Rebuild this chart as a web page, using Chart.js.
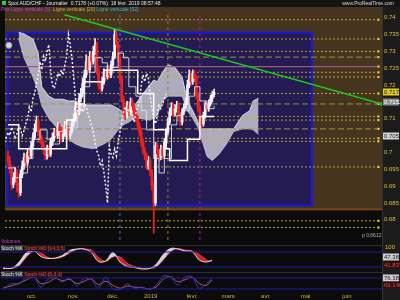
<!DOCTYPE html>
<html><head><meta charset="utf-8">
<script src="https://cdn.jsdelivr.net/npm/chart.js@4.4.1/dist/chart.umd.min.js"></script>
<style>
html,body{margin:0;padding:0;background:#0b0b0b;}
#wrap{position:relative;width:400px;height:300px;overflow:hidden;background:#0b0b0b;font-family:"Liberation Sans",Arial,sans-serif;}
canvas{position:absolute;left:0;}
.t{position:absolute;white-space:nowrap;font-size:5px;line-height:7px;}
</style></head><body>
<div id="wrap">
<canvas id="main" width="400" height="238" style="top:7px"></canvas>
<canvas id="st1" width="400" height="27" style="top:245px"></canvas>
<canvas id="st2" width="400" height="28" style="top:272px"></canvas>
<div class="t" style="top:0;left:0;width:400px;height:7px;background:#141414;"></div>
<div class="t" style="top:1px;left:2px;width:4px;height:4px;background:#2ecc40;"></div>
<div class="t" style="top:0;left:8px;color:#e6e6e6;">Spot AUD/CHF - Journalier &nbsp;0.7178 (+0.07%) &nbsp;18 févr. 2019 08:57:48</div>
<div class="t" style="top:0;right:6px;color:#dcdcdc;">www.ProRealTime.com</div>
<div class="t" style="top:6px;left:1px;"><span style="color:#e040e0">Prix</span> <span style="color:#d23cd2">Ligne verticale [3]</span> <span style="color:#c9b23e">&nbsp;Ligne verticale [20]</span> <span style="color:#3ea8d4">Ligne verticale [52]</span></div>
<div class="t" style="top:238px;left:1px;color:#d03cd0;">Volumes</div>
<div class="t" style="top:232px;left:362px;color:#b0b0b0;">p 0.6612</div>
<div class="t" style="top:245px;left:1px;"><span style="color:#e0e0e0;background:#333">Stoch %K</span> <span style="color:#e04848;background:#2a1414">Stoch %D [14,3,5]</span></div>
<div class="t" style="top:271px;left:1px;"><span style="color:#e0e0e0;background:#333">Stoch %K</span> <span style="color:#e04848;background:#2a1414">Stoch %D [5,3,3]</span></div>
</div>
<script>
// ---------- DATA ----------
const candleOpen = [
0.6990,0.6975,0.6950,0.6905,0.6925,0.6940,0.6900,0.6880,0.6935,0.6960,
0.6985,0.6970,0.7000,0.6990,0.7020,0.7045,0.7070,0.7095,0.7060,0.7040,
0.7025,0.7005,0.6990,0.7010,0.6995,0.7030,0.7045,0.7060,0.7050,0.7075,
0.7065,0.7040,0.7055,0.7080,0.7070,0.7050,0.7065,0.7085,0.7100,0.7135,
0.7120,0.7160,0.7175,0.7205,0.7230,0.7270,0.7245,0.7285,0.7270,0.7300,
0.7320,0.7240,0.7200,0.7190,0.7210,0.7235,0.7225,0.7245,0.7230,0.7260,
0.7285,0.7350,0.7320,0.7280,0.7220,0.7160,0.7120,0.7110,0.7140,0.7120,
0.7150,0.7135,0.7115,0.7100,0.7080,0.7060,0.7030,0.7005,0.6990,0.6960,
0.6975,0.6940,0.6900,0.6850,0.7020,0.6995,0.6985,0.7010,0.6990,0.7030,
0.7060,0.7090,0.7120,0.7135,0.7115,0.7130,0.7140,0.7110,0.7090,0.7120,
0.7135,0.7150,0.7200,0.7230,0.7210,0.7235,0.7220,0.7170,0.7130,0.7100,
0.7085,0.7110,0.7140,0.7130,0.7145,0.7160,0.7172];
const candleHigh = [
0.7005,0.6988,0.6962,0.6940,0.6955,0.6950,0.6912,0.6948,0.6975,0.6998,
0.6995,0.7012,0.7015,0.7032,0.7058,0.7085,0.7108,0.7102,0.7072,0.7050,
0.7035,0.7015,0.7022,0.7020,0.7042,0.7058,0.7072,0.7070,0.7088,0.7085,
0.7075,0.7066,0.7092,0.7090,0.7078,0.7075,0.7098,0.7115,0.7150,0.7148,
0.7175,0.7190,0.7220,0.7245,0.7290,0.7282,0.7300,0.7298,0.7315,0.7338,
0.7328,0.7250,0.7212,0.7222,0.7248,0.7245,0.7258,0.7255,0.7272,0.7298,
0.7366,0.7362,0.7330,0.7288,0.7228,0.7168,0.7135,0.7152,0.7150,0.7162,
0.7160,0.7145,0.7125,0.7110,0.7090,0.7070,0.7040,0.7015,0.6998,0.6988,
0.6985,0.6950,0.6912,0.7030,0.7028,0.7008,0.7022,0.7018,0.7042,0.7072,
0.7102,0.7132,0.7148,0.7145,0.7142,0.7152,0.7148,0.7118,0.7130,0.7145,
0.7162,0.7215,0.7245,0.7240,0.7245,0.7244,0.7228,0.7178,0.7138,0.7108,
0.7120,0.7150,0.7150,0.7156,0.7170,0.7182,0.7188];
const candleLow = [
0.6962,0.6938,0.6890,0.6895,0.6912,0.6885,0.6866,0.6872,0.6925,0.6950,
0.6958,0.6962,0.6978,0.6982,0.7010,0.7038,0.7062,0.7050,0.7028,0.7012,
0.6995,0.6978,0.6980,0.6985,0.6988,0.7020,0.7035,0.7040,0.7042,0.7055,
0.7030,0.7032,0.7048,0.7060,0.7040,0.7042,0.7058,0.7078,0.7092,0.7110,
0.7112,0.7150,0.7165,0.7195,0.7222,0.7235,0.7238,0.7258,0.7262,0.7290,
0.7232,0.7188,0.7178,0.7182,0.7202,0.7215,0.7218,0.7220,0.7222,0.7252,
0.7278,0.7310,0.7270,0.7210,0.7150,0.7105,0.7098,0.7102,0.7110,0.7112,
0.7125,0.7105,0.7090,0.7068,0.7048,0.7018,0.6995,0.6978,0.6950,0.6950,
0.6930,0.6888,0.6760,0.6842,0.6985,0.6975,0.6978,0.6980,0.6982,0.7022,
0.7052,0.7082,0.7110,0.7105,0.7108,0.7120,0.7100,0.7080,0.7082,0.7112,
0.7128,0.7142,0.7192,0.7200,0.7202,0.7210,0.7160,0.7120,0.7090,0.7072,
0.7078,0.7102,0.7122,0.7122,0.7138,0.7150,0.7165];
const candleClose = [
0.6975,0.6950,0.6905,0.6925,0.6940,0.6900,0.6880,0.6935,0.6960,0.6985,
0.6970,0.7000,0.6990,0.7020,0.7045,0.7070,0.7095,0.7060,0.7040,0.7025,
0.7005,0.6990,0.7010,0.6995,0.7030,0.7045,0.7060,0.7050,0.7075,0.7065,
0.7040,0.7055,0.7080,0.7070,0.7050,0.7065,0.7085,0.7100,0.7135,0.7120,
0.7160,0.7175,0.7205,0.7230,0.7270,0.7245,0.7285,0.7270,0.7300,0.7320,
0.7240,0.7200,0.7190,0.7210,0.7235,0.7225,0.7245,0.7230,0.7260,0.7285,
0.7350,0.7320,0.7280,0.7220,0.7160,0.7120,0.7110,0.7140,0.7120,0.7150,
0.7135,0.7115,0.7100,0.7080,0.7060,0.7030,0.7005,0.6990,0.6960,0.6975,
0.6940,0.6900,0.6850,0.7020,0.6995,0.6985,0.7010,0.6990,0.7030,0.7060,
0.7090,0.7120,0.7135,0.7115,0.7130,0.7140,0.7110,0.7090,0.7120,0.7135,
0.7150,0.7200,0.7230,0.7210,0.7235,0.7220,0.7170,0.7130,0.7100,0.7085,
0.7110,0.7140,0.7130,0.7145,0.7160,0.7172,0.7178];
const chikouShift = 26;

const cloudX = [6,9,14,17,19,23,26,31,34,38,42,48,54,58,62,65,68,71,75,79,82,84,87,90,94,98,101,104,107,109,112,115,119,123,127,132,136,138,141];
const cloudUpper = [0.7357,0.7352,0.7337,0.7295,0.7195,0.7167,0.7158,0.7158,0.7153,0.7153,0.7141,0.7141,0.7141,0.7141,0.7130,0.7119,0.7110,0.7138,0.7167,0.7195,0.7215,0.7210,0.7238,0.7261,0.7252,0.7224,0.7153,0.7124,0.7090,0.7070,0.7070,0.7070,0.7070,0.7070,0.7070,0.7110,0.7124,0.7153,0.7161];
const cloudLower = [0.7337,0.7281,0.7224,0.7181,0.7138,0.7101,0.7082,0.7053,0.7039,0.7025,0.7016,0.7011,0.7025,0.7039,0.7067,0.7082,0.7090,0.7101,0.7101,0.7096,0.7101,0.7110,0.7153,0.7167,0.7167,0.7167,0.7124,0.7101,0.7073,0.7039,0.6988,0.6976,0.6996,0.7025,0.7062,0.7070,0.7070,0.7067,0.7053];

const kijunX = [0,6,33,38,43,54,73,82,89,91,101,108,116];
const kijunY = [0.7082,0.7011,0.7096,0.7144,0.7210,0.7244,0.7175,0.7067,0.7011,0.6976,0.7039,0.7107,0.7107];
const tenkanX = [0,4,8,11,14,18,22,25,29,33,36,39,43,46,49,53,56,59,62,65,68,72,75,78,82,85,88,92,95,98,102,105,108,112,116];
const tenkanY = [0.6954,0.6925,0.6939,0.6982,0.7039,0.7067,0.7039,0.7025,0.7062,0.7073,0.7073,0.7124,0.7195,0.7238,0.7281,0.7266,0.7238,0.7252,0.7295,0.7281,0.7195,0.7167,0.7124,0.7067,0.6982,0.6939,0.6982,0.7082,0.7110,0.7124,0.7167,0.7195,0.7153,0.7130,0.7138];

const dottedLevels = [0.7394,0.7337,0.7300,0.7238,0.7224,0.7175,0.7107,0.7096,0.7042,0.7033,0.6957,0.6797,0.6777];
const dashedLevels = [0.7283,0.7144,0.7070];
const mauveLevels = [0.7255];
const verticalDays = [63,90,108];
const trendX = [31.7,210.5];
const trendY = [0.7409,0.7144];
const markerX = [0.5];
const markerY = [0.7318];

const priceTicks = [0.74,0.735,0.73,0.725,0.72,0.71,0.70,0.695,0.69,0.685,0.68];
const priceTickLabels = ['0.74','0.735','0.73','0.725','0.72','0.71','0.7','0.695','0.69','0.685','0.68'];

const stochX  = [0,5,9,13,17,21,25,29,33,37,41,45,49,53,57,61,65,69,73,77,81,85,89,93,97,101,105,109,113,116];
const stoch1K = [14,16,40,78,86,62,54,56,66,86,92,92,78,42,44,78,40,22,18,12,14,30,70,94,92,84,82,48,40,47.387];
const stoch1D = [18,14,26,60,82,76,58,54,60,76,90,92,88,58,42,60,60,34,22,16,14,20,48,80,94,88,84,70,48,41.837];
const stoch2K = [22,50,48,84,88,30,74,84,58,80,36,78,72,24,84,22,18,48,24,30,16,40,90,86,42,84,88,22,50,76.387];
const stoch2D = [26,38,52,70,86,50,56,78,66,72,50,62,76,44,62,40,24,36,30,28,20,30,74,88,60,70,84,50,40,69.146];
const stochLevels = [80,20];

const monthTicks  = [16,39,61,82,105,125,146,168,191];
const monthLabels = ['oct.','nov.','déc.','2019','févr.','mars','avr.','mai','juin'];

// ---------- LAYOUT CONSTANTS (data units) ----------
const X_MIN = -1.7, X_MAX = 210.5;
const Y_MIN = 0.6740, Y_MAX = 0.7417;
const LINE_END = 208.5;
const zone = {brownFloor:0.6831, boxX0:-0.3, boxX1:171, boxYlo:0.6843, boxYhi:0.7356};

Chart.defaults.font.family = '"Liberation Sans", Arial, sans-serif';

function fixAxisY(a){ a.width = 18; a.paddingTop = 0; a.paddingBottom = 0; }

const bgPlugin = {
  id:'bgPlugin',
  beforeDraw(ch, args, o){
    const {ctx, chartArea:a} = ch;
    ctx.save();
    ctx.fillStyle = '#0b0b0b'; ctx.fillRect(0,0,ch.width,ch.height);
    if (o.main){
      const x = ch.scales.x, y = ch.scales.y;
      const yb = y.getPixelForValue(zone.brownFloor);
      ctx.fillStyle = '#46341f'; ctx.fillRect(a.left, 0, a.right-a.left, yb);
      ctx.fillStyle = '#7a4714'; ctx.fillRect(a.left, yb-1, a.right-a.left, 2);
      const bx0 = x.getPixelForValue(zone.boxX0), bx1 = x.getPixelForValue(zone.boxX1);
      const by0 = y.getPixelForValue(zone.boxYhi), by1 = y.getPixelForValue(zone.boxYlo);
      ctx.fillStyle = '#231b52'; ctx.fillRect(bx0,by0,bx1-bx0,by1-by0);
      ctx.strokeStyle = '#1616e8'; ctx.lineWidth = 2; ctx.strokeRect(bx0,by0,bx1-bx0,by1-by0);
    } else {
      ctx.fillStyle = '#2e2e2e'; ctx.fillRect(0,0,ch.width,1);
    }
    ctx.fillStyle = '#1b1b1b'; ctx.fillRect(a.right,0,ch.width-a.right,ch.height);
    ctx.fillStyle = '#333'; ctx.fillRect(a.right,0,1,ch.height);
    ctx.restore();
  }
};
const boxPlugin = {
  id:'boxPlugin',
  afterDraw(ch, args, o){
    const {ctx, chartArea:a} = ch; const y = ch.scales.y;
    ctx.save();
    (o.items||[]).forEach(b=>{
      const py = Math.round(y.getPixelForValue(b.value)) + (b.dy||0);
      ctx.fillStyle = b.bg; ctx.fillRect(a.right+1, py-3.5, ch.width-a.right-2, 7);
      ctx.fillStyle = b.fg; ctx.font = '6px "Liberation Sans"'; ctx.textBaseline = 'middle';
      ctx.fillText(b.text, a.right+2, py+0.5);
    });
    ctx.restore();
  }
};

// ---------- MAIN CHART ----------
const idx = candleClose.map((_, i) => i);
const colUp = '#f2f2f6', colDn = '#ee2020';
const candleCol = idx.map(i => candleClose[i] < candleOpen[i] ? colDn : colUp);

function hLine(level, color, dash, width){
  return {type:'line', data:[{x:X_MIN,y:level},{x:LINE_END,y:level}], borderColor:color, borderDash:dash,
    borderWidth:width, pointRadius:[0,1.5], pointStyle:'rect', pointBackgroundColor:'#e6cf2a', pointBorderWidth:0, order:8};
}
const vColors = ['#52789c','#8c7c4c','#a41cac'];
const datasets = [
  {type:'line', data:cloudX.map((x,i)=>({x, y:cloudUpper[i]})), borderColor:'rgba(235,235,242,0.85)', borderWidth:1, pointRadius:0, fill:false, order:9},
  {type:'line', data:cloudX.map((x,i)=>({x, y:cloudLower[i]})), borderColor:'rgba(225,225,232,0.6)', borderWidth:1, pointRadius:0, fill:'-1', backgroundColor:'rgba(192,192,206,0.88)', order:9},
  ...dottedLevels.map(v => hLine(v, 'rgba(205,182,58,0.85)', [2,2], 1)),
  ...dashedLevels.map(v => hLine(v, 'rgba(170,150,60,0.95)', [6,3], 1)),
  ...mauveLevels.map(v => hLine(v, '#9a5a80', [], 1.3)),
  ...verticalDays.map((d,i) => ({type:'line', data:[{x:d,y:Y_MIN},{x:d,y:Y_MAX}], borderColor:vColors[i], borderDash:[3,3], borderWidth:1, pointRadius:0, order:7})),
  {type:'bar', data:idx.map(i=>({x:i, y:[candleLow[i], candleHigh[i]]})), backgroundColor:candleCol, barThickness:1, grouped:false, order:5},
  {type:'bar', data:idx.map(i=>({x:i, y:[candleOpen[i], candleClose[i]]})), backgroundColor:candleCol, barThickness:2, minBarLength:1, grouped:false, order:4},
  {type:'line', data:tenkanX.map((x,i)=>({x, y:tenkanY[i]})), stepped:'before', borderColor:'rgba(230,230,240,0.85)', borderWidth:1, pointRadius:0, order:3},
  {type:'line', data:kijunX.map((x,i)=>({x, y:kijunY[i]})), stepped:'before', borderColor:'#ffffff', borderWidth:1.5, pointRadius:0, order:3},
  {type:'line', data:candleClose.map((c,i)=>({x:i-chikouShift, y:c})), borderColor:'#f4f4f4', borderDash:[2,2], borderWidth:1.5, pointRadius:0, order:2},
  {type:'line', data:trendX.map((x,i)=>({x, y:trendY[i]})), borderColor:'#1ec81e', borderWidth:1.5, pointRadius:[0,2], pointBackgroundColor:'#1ec81e', pointBorderWidth:0, order:1},
  {type:'line', data:markerX.map((x,i)=>({x, y:markerY[i]})), showLine:false, pointRadius:3, pointBackgroundColor:'#d6d6d6', pointBorderColor:'#999', pointBorderWidth:1, order:1}
];

new Chart(document.getElementById('main'), {
  type:'bar',
  data:{datasets},
  plugins:[bgPlugin, boxPlugin],
  options:{
    responsive:false, animation:false, devicePixelRatio:1,
    layout:{padding:0},
    plugins:{legend:{display:false}, tooltip:{enabled:false},
      bgPlugin:{main:true},
      boxPlugin:{items:[
        {value:candleClose[candleClose.length-1], text:candleClose[candleClose.length-1].toFixed(4), bg:'#e2cb22', fg:'#111'},
        {value:0.7152, text:'0.7152', bg:'#8c8c8c', fg:'#fff', dy:1},
        {value:0.7050, text:'0.7050', bg:'#d4d4d4', fg:'#222'}
      ]}},
    scales:{
      x:{type:'linear', min:X_MIN, max:X_MAX, display:false, offset:false, grid:{offset:false}},
      y:{type:'linear', position:'right', min:Y_MIN, max:Y_MAX, beginAtZero:false,
         grid:{display:false, drawTicks:false}, border:{display:false},
         afterFit:fixAxisY,
         afterBuildTicks(a){ a.ticks = priceTicks.map(v=>({value:v})); },
         ticks:{color:'#d8c234', font:{size:6}, padding:2, autoSkip:false, callback:(v,i)=>priceTickLabels[i]}}
    }
  }
});

// ---------- STOCHASTICS ----------
function levelSets(){
  return stochLevels.map(v => ({data:[{x:X_MIN,y:v},{x:X_MAX,y:v}], borderColor:'#1c1ca8', borderWidth:1, pointRadius:0, fill:false}));
}
new Chart(document.getElementById('st1'), {
  type:'line',
  data:{datasets:[
    ...levelSets(),
    {data:stochX.map((x,i)=>({x, y:stoch1K[i]})), borderColor:'#dcdcf0', borderWidth:1, pointRadius:0, tension:0.35,
      fill:{target:'+1', above:'rgba(222,222,240,0.92)', below:'rgba(232,36,36,0.92)'}},
    {data:stochX.map((x,i)=>({x, y:stoch1D[i]})), borderColor:'#e03030', borderWidth:1, pointRadius:0, tension:0.35, fill:false}
  ]},
  plugins:[bgPlugin, boxPlugin],
  options:{
    responsive:false, animation:false, devicePixelRatio:1, layout:{padding:0},
    plugins:{legend:{display:false}, tooltip:{enabled:false}, bgPlugin:{main:false},
      boxPlugin:{items:[
        {value:stoch1K[stoch1K.length-1], text:stoch1K[stoch1K.length-1].toFixed(3), bg:'#d0d0d0', fg:'#111', dy:-3},
        {value:stoch1D[stoch1D.length-1], text:stoch1D[stoch1D.length-1].toFixed(3), bg:'#2a1010', fg:'#f04040', dy:3}
      ]}},
    scales:{
      x:{type:'linear', min:X_MIN, max:X_MAX, display:false},
      y:{type:'linear', position:'right', min:0, max:108, grid:{display:false, drawTicks:false}, border:{display:false},
        afterFit:fixAxisY, afterBuildTicks(a){ a.ticks = [{value:100}]; },
        ticks:{color:'#d8c234', font:{size:6}, padding:3, callback:v=>String(v)}}
    }
  }
});
new Chart(document.getElementById('st2'), {
  type:'line',
  data:{datasets:[
    ...levelSets(),
    {data:stochX.map((x,i)=>({x, y:stoch2K[i]})), borderColor:'#3838d0', borderWidth:1, pointRadius:0, tension:0.3, fill:false},
    {data:stochX.map((x,i)=>({x, y:stoch2D[i]})), borderColor:'#c05858', borderWidth:1, pointRadius:0, tension:0.3, fill:false}
  ]},
  plugins:[bgPlugin, boxPlugin],
  options:{
    responsive:false, animation:false, devicePixelRatio:1, layout:{padding:0},
    plugins:{legend:{display:false}, tooltip:{enabled:false}, bgPlugin:{main:false},
      boxPlugin:{items:[
        {value:stoch2K[stoch2K.length-1], text:stoch2K[stoch2K.length-1].toFixed(3), bg:'#d0d0d0', fg:'#111', dy:-1},
        {value:stoch2D[stoch2D.length-1], text:stoch2D[stoch2D.length-1].toFixed(3), bg:'#2a1010', fg:'#f04040', dy:5}
      ]}},
    scales:{
      x:{type:'linear', min:X_MIN, max:X_MAX, position:'bottom', grid:{display:false, drawTicks:false}, border:{display:false},
        afterFit(a){ a.height = 8; a.paddingLeft = 0; a.paddingRight = 0; },
        afterBuildTicks(a){ a.ticks = monthTicks.map(v=>({value:v})); },
        ticks:{color:'#c8b040', font:{size:6}, padding:1, autoSkip:false, maxRotation:0,
          callback:v=>monthLabels[monthTicks.indexOf(v)]}},
      y:{type:'linear', position:'right', min:3.6, max:112.7, grid:{display:false, drawTicks:false}, border:{display:false},
        afterFit:fixAxisY, afterBuildTicks(a){ a.ticks = []; }, ticks:{display:true}}
    }
  }
});
</script>
</body></html>
